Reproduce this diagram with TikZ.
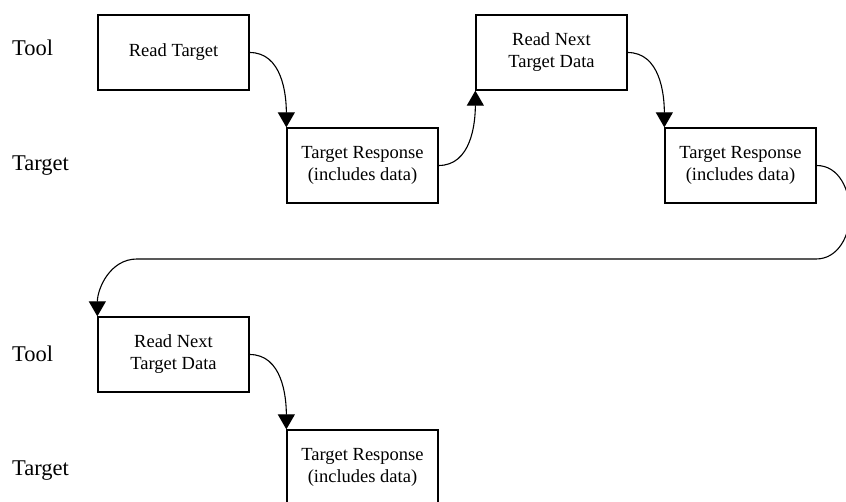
\documentclass[tikz,border=0pt]{standalone}
\usepackage{fontspec}
\setmainfont{Liberation Serif}
\usetikzlibrary{arrows.meta}

\tikzset{
  stepbox/.style={draw, line width=1.3pt, minimum width=151pt, minimum height=75pt,
    inner sep=0pt, align=center, font=\fontsize{18.5}{22}\selectfont},
  rolelabel/.style={anchor=base west, inner sep=0pt, font=\fontsize{22.5}{26}\selectfont},
  flow/.style={line width=1.1pt, -{Triangle[width=17pt,length=15pt]}}
}

\begin{document}
\begin{tikzpicture}[x=1pt, y=-1pt]
  \useasboundingbox (0,0) rectangle (846,502);
  \clip (0,0) rectangle (846,502);

  % lane labels
  \node[rolelabel] (tool1) at (12,56) {Tool};
  \node[rolelabel] (target1) at (12,171) {Target};
  \node[rolelabel] (tool2) at (12,362) {Tool};
  \node[rolelabel] (target2) at (12,475) {Target};

  % message boxes
  \node[stepbox] (b1) at (173.5,52.5) {Read Target};
  \node[stepbox] (b2) at (362.5,165.5) {Target Response\\(includes data)};
  \node[stepbox] (b3) at (551.5,52.5) {Read Next\\Target Data};
  \node[stepbox] (b4) at (740.5,165.5) {Target Response\\(includes data)};
  \node[stepbox] (b5) at (173.5,354.5) {Read Next\\Target Data};
  \node[stepbox] (b6) at (362.5,467.5) {Target Response\\(includes data)};

  % wrap-around points of the long connector
  \coordinate (wrapR) at (850,213);
  \coordinate (wrapA) at (816,259);
  \coordinate (wrapB) at (137,259);

  % connectors
  \draw[flow] (b1.east) to[out=0,in=90] (b2.north west);
  \draw[flow] (b2.east) to[out=0,in=-90] (b3.south west);
  \draw[flow] (b3.east) to[out=0,in=90] (b4.north west);
  \draw[flow] (b4.east) to[out=0,in=90] (wrapR) to[out=-90,in=0] (wrapA)
    -- (wrapB) to[out=180,in=90] (b5.north west);
  \draw[flow] (b5.east) to[out=0,in=90] (b6.north west);
\end{tikzpicture}
\end{document}
